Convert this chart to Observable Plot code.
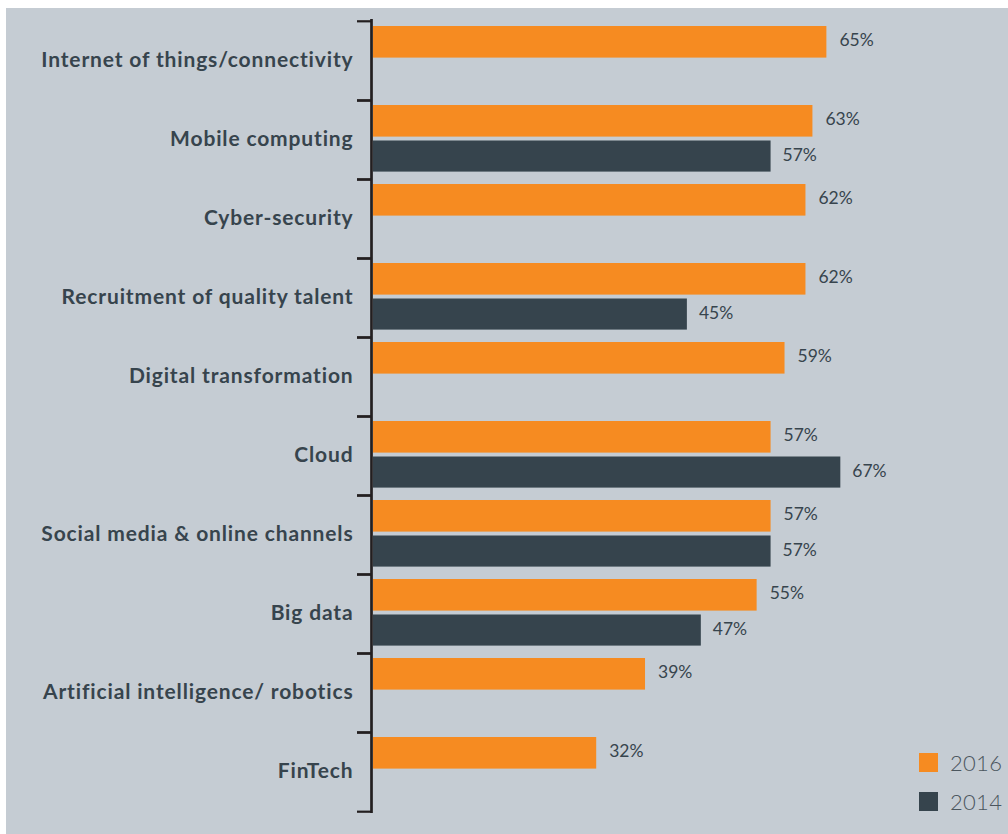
<!DOCTYPE html>
<html>
<head>
<meta charset="utf-8">
<script src="https://cdn.jsdelivr.net/npm/d3@7"></script>
<script src="https://cdn.jsdelivr.net/npm/@observablehq/plot@0.6"></script>
<style>
  html, body { margin: 0; padding: 0; background: #ffffff; }
  #wrap { position: absolute; left: 6px; top: 8px; width: 1002px; height: 826px; background: #c5ccd3; overflow: hidden; font-family: Lato, "Open Sans", sans-serif; }
  #chart svg { display: block; }
  #legend { position: absolute; left: 913px; top: 735px; }
  .item { display: flex; align-items: center; height: 39px; }
  .sw { width: 19px; height: 19px; margin-right: 12px; }
  .lab { font-size: 22px; font-weight: 300; color: #4b565e; line-height: 1; letter-spacing: 0.3px; }
  .ylab text { letter-spacing: 0.85px; }
</style>
</head>
<body>
<div id="wrap">
  <div id="chart"></div>
  <div id="legend"></div>
</div>
<script>
const categories = [
  "Internet of things/connectivity",
  "Mobile computing",
  "Cyber-security",
  "Recruitment of quality talent",
  "Digital transformation",
  "Cloud",
  "Social media & online channels",
  "Big data",
  "Artificial intelligence/ robotics",
  "FinTech"
];
const values2016 = [65, 63, 62, 62, 59, 57, 57, 55, 39, 32];
const values2014 = [null, 57, null, 45, null, 67, 57, 47, null, null];
const seriesNames = ["2016", "2014"];
const seriesColors = ["#f68b21", "#36444d"];

const rows2016 = categories.map((c, i) => ({category: c, value: values2016[i]})).filter(d => d.value != null);
const rows2014 = categories.map((c, i) => ({category: c, value: values2014[i]})).filter(d => d.value != null);

const W = 1002, H = 826;
const marginTop = 11, marginBottom = 21, marginLeft = 365;
const band = (H - marginTop - marginBottom) / categories.length;
const textColor = "#37444d";
const axisColor = "#231f20";

const chart = Plot.plot({
  width: W,
  height: H,
  marginTop, marginBottom, marginLeft, marginRight: 0,
  style: {background: "transparent", fontFamily: "Lato, 'Open Sans', sans-serif", overflow: "visible"},
  x: {domain: [0, 90], range: [367, 367 + 90 * 6.975], axis: null},
  y: {type: "band", domain: categories, padding: 0, label: null},
  marks: [
    Plot.barX(rows2016, {x: "value", y: "category", fill: seriesColors[0], insetTop: 5, insetBottom: band - 37}),
    Plot.barX(rows2014, {x: "value", y: "category", fill: seriesColors[1], insetTop: 40.5, insetBottom: band - 72}),
    Plot.text(rows2016, {x: "value", y: "category", text: d => d.value + "%", dx: 12.5, dy: -band / 2 + 21 - 2, textAnchor: "start", fontSize: 17.5, fill: textColor}),
    Plot.text(rows2014, {x: "value", y: "category", text: d => d.value + "%", dx: 11.5, dy: -band / 2 + 56.25 - 1.5, textAnchor: "start", fontSize: 17.5, fill: textColor}),
    Plot.axisY({tickSize: 14, fill: "none", stroke: axisColor, strokeWidth: 2.2, dy: -band / 2, label: null}),
    Plot.axisY({tickSize: 14, fill: "none", stroke: axisColor, strokeWidth: 2.2, dy: band / 2, label: null}),
    Plot.axisY({tickSize: 0, tickPadding: 18, fontSize: 21, fontWeight: "bold", fill: textColor, label: null, dy: -1, className: "ylab"}),
    Plot.ruleX([0], {stroke: axisColor, strokeWidth: 2.7, dx: -2})
  ]
});
document.getElementById("chart").appendChild(chart);

const legend = document.getElementById("legend");
seriesNames.forEach((name, i) => {
  const item = document.createElement("div");
  item.className = "item";
  const sw = document.createElement("div");
  sw.className = "sw";
  sw.style.background = seriesColors[i];
  const lab = document.createElement("span");
  lab.className = "lab";
  lab.textContent = name;
  item.appendChild(sw);
  item.appendChild(lab);
  legend.appendChild(item);
});
</script>
</body>
</html>
